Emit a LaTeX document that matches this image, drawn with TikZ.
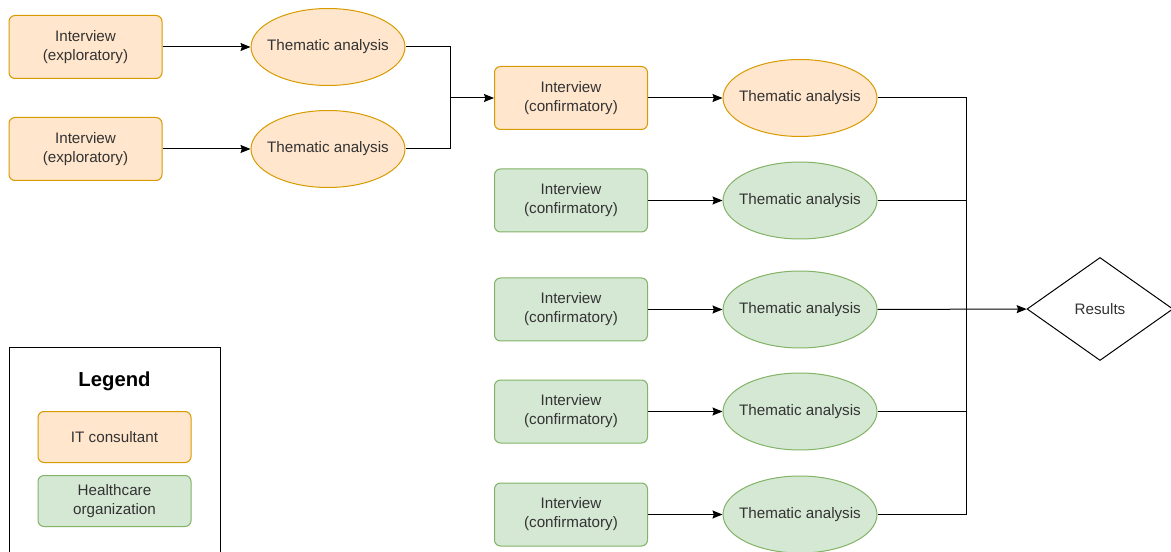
\documentclass[tikz,border=0pt]{standalone}
\usepackage{fontspec}
\setmainfont{Liberation Sans}
\usetikzlibrary{shapes.geometric,arrows.meta}

\definecolor{orfill}{HTML}{FFE6CC}
\definecolor{ordraw}{HTML}{D79B00}
\definecolor{grfill}{HTML}{D5E8D4}
\definecolor{grdraw}{HTML}{82B366}
\definecolor{txtgray}{HTML}{333333}

\tikzset{every picture/.style={line width=0.75pt}}
\tikzset{
  interview/.style={rectangle, rounded corners=4.5pt, minimum width=114.75pt, minimum height=47.25pt, align=center, inner sep=0.75pt, text=txtgray, font=\fontsize{11.4}{14.3}\selectfont},
  analysis/.style={ellipse, minimum width=115.5pt, minimum height=57.75pt, align=center, inner xsep=-5pt, inner ysep=0.75pt, text=txtgray, font=\fontsize{11.4}{14.3}\selectfont},
  itcons/.style={fill=orfill, draw=ordraw},
  hcorg/.style={fill=grfill, draw=grdraw},
  flow/.style={-{Stealth[length=7.5pt,width=6pt,inset=1pt]}},
}

\begin{document}
\begin{tikzpicture}[x=0.75pt,y=0.75pt,yscale=-1,xscale=1]
  \useasboundingbox (0,0) rectangle (1171,552);

  %Exploratory interviews
  \node [interview, itcons] (ex1) at (85.5,47) {Interview\\(exploratory)};
  \node [interview, itcons] (ex2) at (85.5,149) {Interview\\(exploratory)};
  \node [analysis, itcons] (tx1) at (328,47) {Thematic analysis};
  \node [analysis, itcons] (tx2) at (328,149) {Thematic analysis};

  %Confirmatory interviews
  \node [interview, itcons] (cf1) at (571,98) {Interview\\(confirmatory)};
  \node [interview, hcorg] (cf2) at (571,200.5) {Interview\\(confirmatory)};
  \node [interview, hcorg] (cf3) at (571,309.5) {Interview\\(confirmatory)};
  \node [interview, hcorg] (cf4) at (571,411.5) {Interview\\(confirmatory)};
  \node [interview, hcorg] (cf5) at (571,514.5) {Interview\\(confirmatory)};
  \node [analysis, itcons] (tc1) at (800,98) {Thematic analysis};
  \node [analysis, hcorg] (tc2) at (800,200.5) {Thematic analysis};
  \node [analysis, hcorg] (tc3) at (800,309.5) {Thematic analysis};
  \node [analysis, hcorg] (tc4) at (800,411.5) {Thematic analysis};
  \node [analysis, hcorg] (tc5) at (800,514.5) {Thematic analysis};

  %Results
  \node [diamond, draw, minimum width=109.5pt, minimum height=77.25pt, inner sep=0pt, text=txtgray, font=\fontsize{11.4}{14.3}\selectfont] (res) at (1100,309) {Results};

  %Junctions
  \coordinate (jn1) at (450,98);
  \coordinate (jn2) at (966,309.5);

  %Connectors
  \draw [flow] (ex1) -- (tx1);
  \draw [flow] (ex2) -- (tx2);
  \draw (tx1.east) -| (jn1);
  \draw (tx2.east) -| (jn1);
  \draw [flow] (jn1) -- (cf1);
  \draw [flow] (cf1) -- (tc1);
  \draw [flow] (cf2) -- (tc2);
  \draw [flow] (cf3) -- (tc3);
  \draw [flow] (cf4) -- (tc4);
  \draw [flow] (cf5) -- (tc5);
  \draw (tc1.east) -| (jn2);
  \draw (tc2.east) -| (jn2);
  \draw (tc4.east) -| (jn2);
  \draw (tc5.east) -| (jn2);
  \draw [flow] (tc3) -- (res);

  %Legend
  \draw (9,347) rectangle (220,570);
  \node [font=\bfseries\fontsize{15.2}{18}\selectfont, inner sep=0.75pt] (lgd) at (114.5,381) {Legend};
  \node [interview, itcons, minimum height=38.25pt] (lit) at (114.5,437) {IT consultant};
  \node [interview, hcorg, minimum height=38.25pt] (lhc) at (114.5,501) {Healthcare\\organization};

\end{tikzpicture}
\end{document}
